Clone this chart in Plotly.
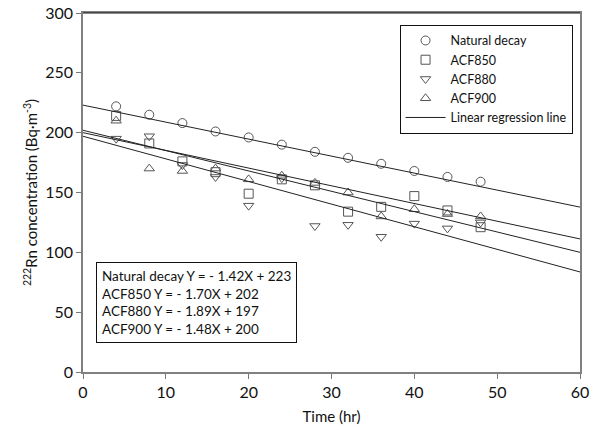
import plotly.graph_objects as go

# ---- data ----
time_hr = [4, 8, 12, 16, 20, 24, 28, 32, 36, 40, 44, 48]
natural_decay = [222, 215, 208, 201, 196, 190, 184, 179, 174, 168, 163, 159]
acf850 = [214, 191, 176, 167, 149, 161, 156, 134, 138, 147, 135, 121]
acf880 = [195, 197, 173, 163, 139, 162, 122, 123, 113, 124, 120, 125]
acf900 = [210, 170, 168, 170, 161, 164, 158, 150, 130, 136, 132, 130]

series_names = ["Natural decay", "ACF850", "ACF880", "ACF900"]
series_symbols = ["circle-open", "square-open", "triangle-down-open", "triangle-up-open"]
slopes = [-1.42, -1.70, -1.89, -1.48]
intercepts = [223, 202, 197, 200]
line_x = [0, 60]

x_ticks = [0, 10, 20, 30, 40, 50, 60]
y_ticks = [0, 50, 100, 150, 200, 250, 300]

FONT = "Lato"
fig = go.Figure()

all_series = [natural_decay, acf850, acf880, acf900]
for name, sym, vals in zip(series_names, series_symbols, all_series):
    fig.add_trace(go.Scatter(
        x=time_hr, y=vals, mode="markers", name=name,
        marker=dict(symbol=sym, size=9, color="#555555", line=dict(width=1, color="#555555")),
    ))

for i, (m, b) in enumerate(zip(slopes, intercepts)):
    fig.add_trace(go.Scatter(
        x=line_x, y=[b + m * xv for xv in line_x], mode="lines",
        name="Linear regression line", legendgroup="reg", showlegend=(i == 0),
        line=dict(color="#222222", width=1),
    ))

eq_lines = [f"{n} Y = - {abs(m):.2f}X + {b}" for n, m, b in zip(series_names, slopes, intercepts)]
fig.add_annotation(
    xref="paper", yref="paper", x=0.026, y=0.306, xanchor="left", yanchor="top",
    text="<br>".join(eq_lines), align="left", showarrow=False,
    font=dict(family=FONT, size=13.5, color="#111111"),
    bordercolor="#111111", borderwidth=1, borderpad=5, bgcolor="white",
)

fig.add_shape(type="line", xref="paper", yref="paper", x0=0, x1=1, y0=1, y1=1,
              line=dict(color="#111111", width=1))

fig.update_layout(
    width=590, height=440,
    margin=dict(l=83, r=10, t=13, b=68, autoexpand=False),
    paper_bgcolor="white", plot_bgcolor="white",
    font=dict(family=FONT, color="#111111"),
    legend=dict(
        x=0.985, y=0.967, xanchor="right", yanchor="top",
        bordercolor="#111111", borderwidth=1, bgcolor="white",
        font=dict(family=FONT, size=12.5, color="#111111"),
        tracegroupgap=0, itemwidth=40,
    ),
    xaxis=dict(
        range=[0, 60], tickvals=x_ticks, ticks="outside", ticklen=5, tickcolor="#777777",
        showline=True, linecolor="#808080", linewidth=1.5, mirror=True,
        showgrid=False, zeroline=False, automargin=False, ticklabeloverflow="allow",
        tickfont=dict(family=FONT, size=16, color="#111111"),
        title=dict(text="Time (hr)", font=dict(family=FONT, size=15, color="#111111"), standoff=12),
    ),
    yaxis=dict(
        range=[0, 300], tickvals=y_ticks, ticks="outside", ticklen=5, tickcolor="#777777",
        showline=True, linecolor="#808080", linewidth=1.5, mirror=True,
        showgrid=False, zeroline=False, automargin=False, ticklabeloverflow="allow",
        tickfont=dict(family=FONT, size=16, color="#111111"),
        title=dict(text="<sup>222</sup>Rn concentration (Bq·m<sup>-3</sup>)",
                   font=dict(family=FONT, size=15, color="#111111"), standoff=4),
    ),
)

fig.write_html("out.html", config={"displayModeBar": False},
               post_script="document.body.style.margin='0px';")
